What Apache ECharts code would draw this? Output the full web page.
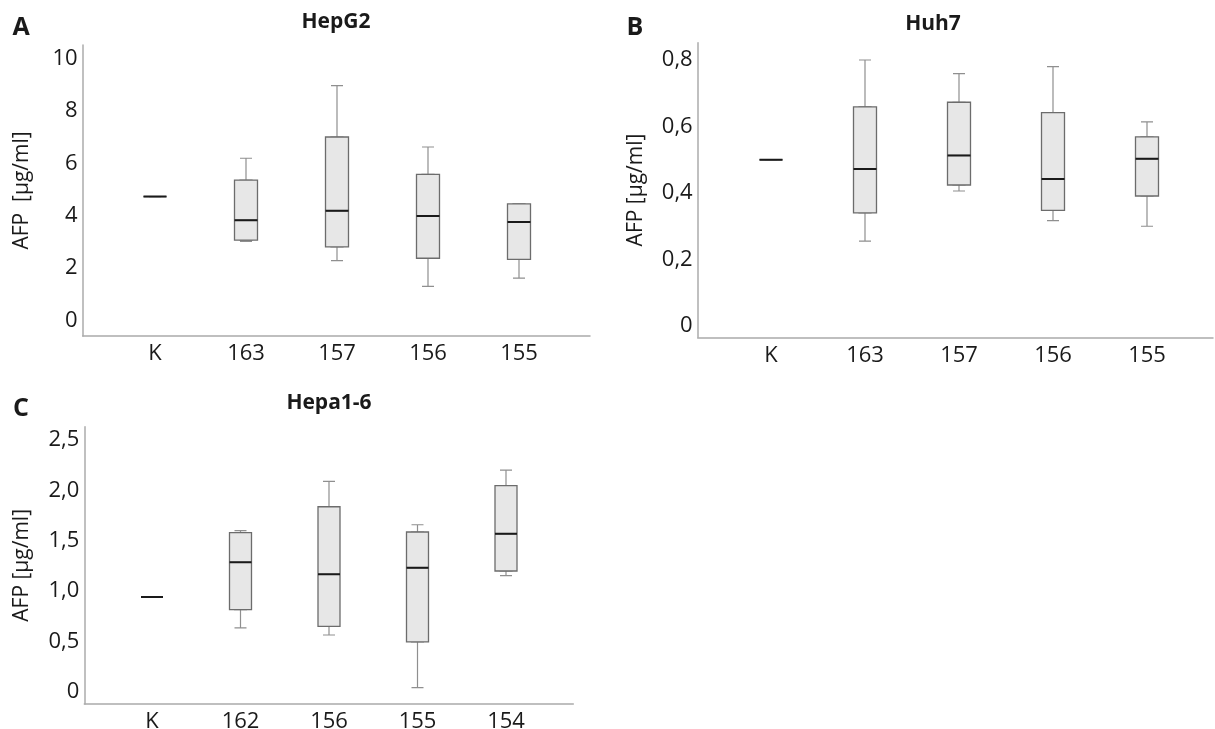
<!DOCTYPE html>
<html>
<head>
<meta charset="utf-8" />
<script src="https://cdn.jsdelivr.net/npm/echarts@6/dist/echarts.min.js"></script>
<style>
  html, body { margin: 0; padding: 0; background: #fff; }
  #chart { width: 1215px; height: 729px; }
</style>
</head>
<body>
<div id="chart"></div>
<script>
// A - HepG2   rows: [min, Q1, median, Q3, max]
const catsA = ["K", "163", "157", "156", "155"];
const boxA = [
  [4.73, 4.73, 4.73, 4.73, 4.73],
  [3.02, 3.07, 3.83, 5.36, 6.19],
  [2.29, 2.81, 4.19, 7.0, 8.96],
  [1.31, 2.38, 3.99, 5.58, 6.62],
  [1.62, 2.34, 3.76, 4.45, 4.45],
];
const ticksA = ["0", "2", "4", "6", "8", "10"];

// B - Huh7
const catsB = ["K", "163", "157", "156", "155"];
const boxB = [
  [0.5, 0.5, 0.5, 0.5, 0.5],
  [0.255, 0.34, 0.472, 0.659, 0.8],
  [0.406, 0.424, 0.513, 0.673, 0.759],
  [0.317, 0.348, 0.442, 0.642, 0.78],
  [0.3, 0.391, 0.503, 0.569, 0.614],
];
const ticksB = ["0", "0,2", "0,4", "0,6", "0,8"];

// C - Hepa1-6
const catsC = ["K", "162", "156", "155", "154"];
const boxC = [
  [0.94, 0.94, 0.94, 0.94, 0.94],
  [0.633, 0.815, 1.285, 1.58, 1.6],
  [0.563, 0.649, 1.166, 1.837, 2.09],
  [0.04, 0.494, 1.231, 1.586, 1.658],
  [1.152, 1.199, 1.569, 2.046, 2.2],
];
const ticksC = ["0", "0,5", "1,0", "1,5", "2,0", "2,5"];

const font = "Open Sans";
const ink = "#1a1a1a";
const axisStyle = { color: "#ababab", width: 1.5 };

const panels = [
  {
    letter: "A", title: "HepG2", name: "AFP  [µg/ml]",
    cats: catsA, box: boxA, ticks: ticksA, max: 10, interval: 2,
    frame: { left: 82.7, top: 45, right: 625, bottom: 393 },
    plot: { left: 109.5, top: 58.3, right: 650.5, bottom: 408.3 },
    letterPos: [21, 15], titlePos: [336, 12], nameGap: 50, boxW: 23,
  },
  {
    letter: "B", title: "Huh7", name: "AFP [µg/ml]",
    cats: catsB, box: boxB, ticks: ticksB, max: 0.8, interval: 0.2,
    frame: { left: 697.7, top: 42.7, right: 2, bottom: 391.7 },
    plot: { left: 724, top: 60, right: 21, bottom: 403 },
    letterPos: [635, 15], titlePos: [933, 14], nameGap: 51, boxW: 23,
  },
  {
    letter: "C", title: "Hepa1-6", name: "AFP [µg/ml]",
    cats: catsC, box: boxC, ticks: ticksC, max: 2.5, interval: 0.5,
    frame: { left: 84.3, top: 426.7, right: 641.7, bottom: 25 },
    plot: { left: 107.75, top: 440, right: 664.75, bottom: 37.3 },
    letterPos: [21, 396], titlePos: [329, 393], nameGap: 52, boxW: 22,
  },
];

const grid = [], xAxis = [], yAxis = [], series = [], title = [];

panels.forEach((p) => {
  const g = grid.length;
  grid.push(
    Object.assign({ outerBoundsMode: "none", containLabel: false }, p.frame),
    Object.assign({ outerBoundsMode: "none", containLabel: false }, p.plot)
  );

  title.push(
    { text: p.letter, left: p.letterPos[0], top: p.letterPos[1], textAlign: "center", padding: 0,
      textStyle: { fontFamily: font, fontSize: 25, fontWeight: "bold", color: ink } },
    { text: p.title, left: p.titlePos[0], top: p.titlePos[1], textAlign: "center", padding: 0,
      textStyle: { fontFamily: font, fontSize: 21, fontWeight: "bold", color: ink } }
  );

  // frame: only the two axis lines
  xAxis.push({
    gridIndex: g, type: "value", min: 0, max: 1,
    axisLine: { show: true, onZero: false, lineStyle: axisStyle },
    axisTick: { show: false }, axisLabel: { show: false }, splitLine: { show: false },
  });
  yAxis.push({
    gridIndex: g, type: "value", min: 0, max: 1,
    axisLine: { show: true, onZero: false, lineStyle: axisStyle },
    axisTick: { show: false }, axisLabel: { show: false }, splitLine: { show: false },
    name: p.name, nameLocation: "middle", nameRotate: 90, nameGap: p.nameGap,
    nameTextStyle: { fontFamily: font, fontSize: 21, color: ink },
  });

  // plot area: value scale + category labels
  const yi = yAxis.length;
  yAxis.push({
    gridIndex: g + 1, type: "value", min: 0, max: p.max, interval: p.interval,
    offset: p.plot.left - p.frame.left,
    axisLine: { show: false }, axisTick: { show: false }, splitLine: { show: false },
    axisLabel: {
      margin: 5, fontFamily: font, fontSize: 22, color: ink,
      formatter: (v, i) => p.ticks[i],
    },
  });
  const xOff = p.plot.bottom - p.frame.bottom;
  const xi = xAxis.length;
  for (let k = 0; k < 3; k++) {
    xAxis.push({
      gridIndex: g + 1, type: "category", data: p.cats, position: "bottom",
      offset: xOff,
      axisLine: { show: false }, axisTick: { show: false }, splitLine: { show: false },
      axisLabel: { show: k === 0, interval: 0, margin: 7, fontFamily: font, fontSize: 22, color: ink },
    });
  }

  // whiskers (narrow caps), box, median - layered on separate category axes
  const whisk = p.box.map((r) => [r[0], r[1], r[1], r[3], r[4]]);
  const body = p.box.map((r) => [r[1], r[1], r[2], r[3], r[3]]);
  const med = p.box.map((r) => [r[2], r[2], r[2], r[2], r[2]]);
  series.push(
    { type: "boxplot", xAxisIndex: xi, yAxisIndex: yi, data: whisk, boxWidth: [12, 12], z: 2, silent: true,
      itemStyle: { color: "#e7e7e7", borderColor: "#8f8f8f", borderWidth: 1.2 } },
    { type: "boxplot", xAxisIndex: xi + 1, yAxisIndex: yi, data: body, boxWidth: [p.boxW, p.boxW], z: 3, silent: true,
      itemStyle: { color: "#e7e7e7", borderColor: "#6c6c6c", borderWidth: 1.3 } },
    { type: "boxplot", xAxisIndex: xi + 2, yAxisIndex: yi, data: med, boxWidth: [p.boxW, p.boxW], z: 4, silent: true,
      itemStyle: { color: "#1a1a1a", borderColor: "#1a1a1a", borderWidth: 2 } }
  );
});

const option = {
  animation: false,
  backgroundColor: "#fff",
  title,
  grid,
  xAxis,
  yAxis,
  series,
};

const myChart = echarts.init(document.getElementById("chart"));
myChart.setOption(option);
</script>
</body>
</html>
